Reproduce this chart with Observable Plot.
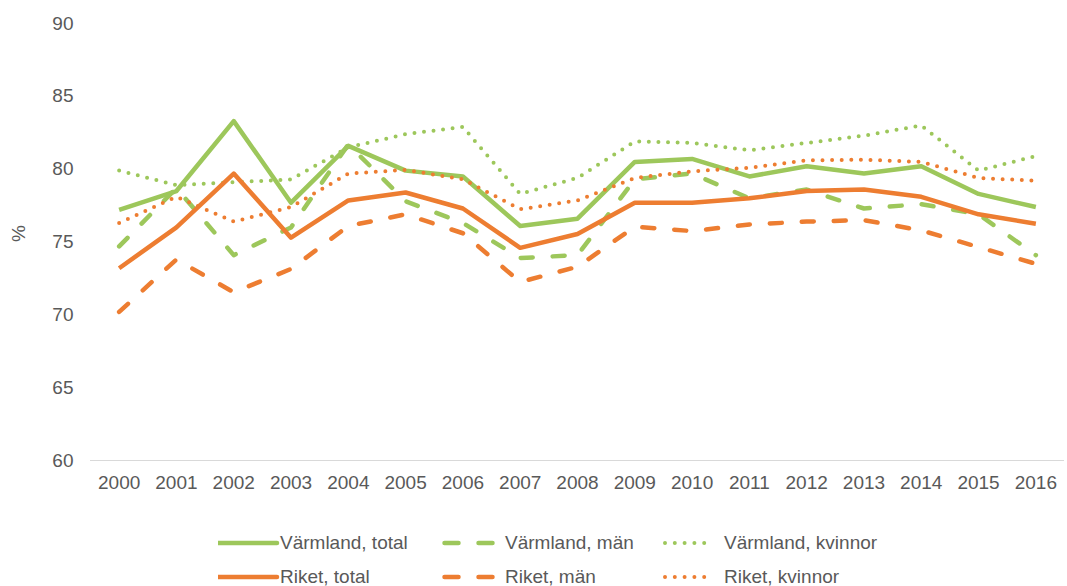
<!DOCTYPE html>
<html>
<head>
<meta charset="utf-8">
<script src="https://cdn.jsdelivr.net/npm/d3@7"></script>
<script src="https://cdn.jsdelivr.net/npm/@observablehq/plot@0.6"></script>
<style>
  body { margin: 0; background: #fff; font-family: "Liberation Sans", Arial, sans-serif; }
  #wrap { position: relative; width: 1067px; height: 586px; }
  #legend { position: absolute; left: 0; top: 500px; width: 1067px; height: 86px; }
  .item { position: absolute; display: flex; align-items: center; font-size: 19px; color: #595959; height: 24px; }
  .item svg { display: block; }
</style>
</head>
<body>
<div id="wrap"><div id="chart"></div><div id="legend"></div></div>
<script>
const years = [2000,2001,2002,2003,2004,2005,2006,2007,2008,2009,2010,2011,2012,2013,2014,2015,2016];
const seriesNames = ["Värmland, total","Värmland, män","Värmland, kvinnor","Riket, total","Riket, män","Riket, kvinnor"];
const varmlandTotal   = [77.2,78.5,83.3,77.7,81.6,79.9,79.5,76.1,76.6,80.5,80.7,79.5,80.2,79.7,80.2,78.3,77.4];
const varmlandMan     = [74.7,78.7,74.1,76.0,81.7,77.8,76.3,73.9,74.1,79.3,79.7,78.0,78.6,77.3,77.6,76.9,74.1];
const varmlandKvinnor = [79.9,78.9,79.1,79.3,81.5,82.4,82.9,78.3,79.4,81.9,81.8,81.3,81.8,82.3,83.0,79.9,80.9];
const riketTotal      = [73.2,76.0,79.7,75.3,77.85,78.4,77.3,74.6,75.55,77.7,77.7,78.0,78.5,78.6,78.1,76.9,76.25];
const riketMan        = [70.2,73.8,71.55,73.15,76.1,76.9,75.6,72.25,73.3,76.05,75.75,76.2,76.4,76.5,75.8,74.65,73.5];
const riketKvinnor    = [76.3,78.1,76.4,77.4,79.7,79.95,79.3,77.25,77.85,79.4,79.85,80.1,80.6,80.65,80.5,79.4,79.2];
const yTicks = [60,65,70,75,80,85,90];

const GREEN = "#9DC75B", ORANGE = "#ED7D31";
const styles = [
  {stroke: GREEN, kind: "solid", width: 4.5},
  {stroke: GREEN, kind: "dash", width: 4.5},
  {stroke: GREEN, kind: "dot", width: 4},
  {stroke: ORANGE, kind: "solid", width: 4.5},
  {stroke: ORANGE, kind: "dash", width: 4.5},
  {stroke: ORANGE, kind: "dot", width: 4}
];
const chartDash = {solid: undefined, dash: "12,20", dot: "0,9.6"};
const allValues = [varmlandTotal, varmlandMan, varmlandKvinnor, riketTotal, riketMan, riketKvinnor];
const series = seriesNames.map((name, i) => ({
  name, style: styles[i],
  data: years.map((year, j) => ({year, value: allValues[i][j], series: name}))
}));

const chart = Plot.plot({
  width: 1067,
  height: 500,
  marginTop: 23,
  marginBottom: 40,
  marginLeft: 90,
  marginRight: 3,
  style: {fontFamily: "Liberation Sans, Arial, sans-serif", fontSize: "19px", color: "#595959", background: "#fff"},
  x: {type: "linear", domain: [1999.5, 2016.5]},
  y: {domain: [60, 90]},
  marks: [
    Plot.ruleY([60], {stroke: "#d9d9d9", strokeWidth: 1.2}),
    Plot.axisX({ticks: years, tickFormat: "d", tickSize: 0, tickPadding: 15, label: null, fill: "#595959"}),
    Plot.axisY({ticks: yTicks, tickSize: 0, tickPadding: 17, label: null, fill: "#595959"}),
    Plot.text(["%"], {frameAnchor: "left", dx: -72, rotate: -90, fill: "#595959", fontSize: 19}),
    ...series.map(s => Plot.line(s.data, {
      x: "year", y: "value",
      stroke: s.style.stroke,
      strokeWidth: s.style.width,
      strokeDasharray: chartDash[s.style.kind],
      strokeLinecap: s.style.kind === "solid" ? "butt" : "round",
      strokeLinejoin: "round"
    }))
  ]
});
document.getElementById("chart").appendChild(chart);

// Legend
const legendCols = [218, 441, 662];
const legendRows = [31, 65];
const legend = document.getElementById("legend");
series.forEach((s, i) => {
  const div = document.createElement("div");
  div.className = "item";
  div.style.left = legendCols[i % 3] + "px";
  div.style.top = legendRows[Math.floor(i / 3)] + "px";
  let line;
  if (s.style.kind === "solid") {
    line = `<svg width="62" height="10"><line x1="0" y1="5" x2="59" y2="5" stroke="${s.style.stroke}" stroke-width="4.5" stroke-linecap="round"/></svg>`;
  } else if (s.style.kind === "dash") {
    line = `<svg width="64" height="10"><line x1="3.5" y1="5" x2="52" y2="5" stroke="${s.style.stroke}" stroke-width="4.5" stroke-dasharray="14,20" stroke-linecap="round"/></svg>`;
  } else {
    line = `<svg width="62" height="10"><line x1="3" y1="5" x2="52" y2="5" stroke="${s.style.stroke}" stroke-width="4" stroke-dasharray="0,9.8" stroke-linecap="round"/></svg>`;
  }
  div.innerHTML = line + `<span>${s.name}</span>`;
  legend.appendChild(div);
});
</script>
</body>
</html>
